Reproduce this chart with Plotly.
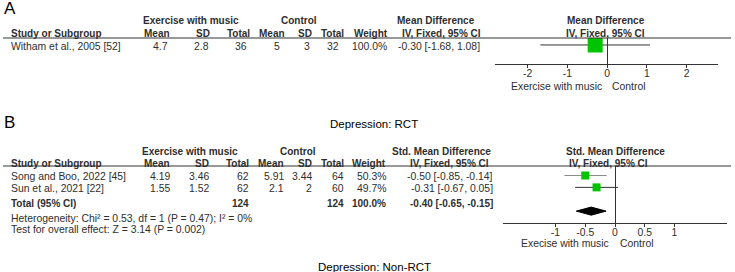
import plotly.graph_objects as go

# ---------------- data ----------------
# Panel A (RCT)
A_studies = ["Witham et al., 2005 [52]"]
A_exp_mean = [4.7]
A_exp_sd = [2.8]
A_exp_n = [36]
A_ctl_mean = [5]
A_ctl_sd = [3]
A_ctl_n = [32]
A_weight = [100.0]
A_est = [-0.30]
A_lo = [-1.68]
A_hi = [1.08]
A_ticks = [-2, -1, 0, 1, 2]
A_ticktext = ["-2", "-1", "0", "1", "2"]

# Panel B (Non-RCT)
B_studies = ["Song and Boo, 2022 [45]", "Sun et al., 2021 [22]"]
B_exp_mean = [4.19, 1.55]
B_exp_sd = [3.46, 1.52]
B_exp_n = [62, 62]
B_ctl_mean = [5.91, 2.1]
B_ctl_sd = [3.44, 2]
B_ctl_n = [64, 60]
B_weight = [50.3, 49.7]
B_est = [-0.50, -0.31]
B_lo = [-0.85, -0.67]
B_hi = [-0.14, 0.05]
B_total_exp_n = 124
B_total_ctl_n = 124
B_total_weight = 100.0
B_total_est = -0.40
B_total_lo = -0.65
B_total_hi = -0.15
B_chi2 = 0.53
B_df = 1
B_p_het = "0.47"
B_i2 = 0
B_z = 3.14
B_p_z = "0.002"
B_ticks = [-1, -0.5, 0, 0.5, 1]
B_ticktext = ["-1", "-0.5", "0", "0.5", "1"]

# ---------------- layout helpers ----------------
W, H = 735, 272
FONT = "Liberation Sans, Arial, sans-serif"
TXT = "#2e2e2e"
GREEN = "#00c400"
BODY = 10.4


def px(x):
    return x / W


def py(y):
    return 1 - y / H


annotations = []


def text(s, x, y, anchor="left", bold=False, size=BODY, color=TXT):
    if bold:
        s = "<b>" + s + "</b>"
    annotations.append(dict(
        text=s, x=px(x), y=py(y), xref="paper", yref="paper",
        xanchor=anchor, yanchor="middle", showarrow=False,
        font=dict(family=FONT, size=size, color=color), borderpad=0,
    ))


def num(v):
    return str(v)


def ci(e, lo, hi):
    return f"{e:.2f} [{lo:.2f}, {hi:.2f}]"


fig = go.Figure()

# ---------------- Panel A ----------------
text("A", 3, 9, size=17, color="#000000")
text("Exercise with music", 191, 21, anchor="center", bold=True, size=10)
text("Control", 299, 21, anchor="center", bold=True, size=10)
text("Mean Difference", 436, 21, anchor="center", bold=True, size=10)
text("Mean Difference", 606, 21, anchor="center", bold=True, size=10)

hy = 33
text("Study or Subgroup", 10, hy, bold=True, size=10)
for lab, xr in [("Mean", 171), ("SD", 211), ("Total", 251), ("Mean", 286),
                ("SD", 313), ("Total", 345), ("Weight", 389),
                ("IV, Fixed, 95% CI", 482)]:
    text(lab, xr, hy, anchor="right", bold=True, size=10)
text("IV, Fixed, 95% CI", 605, hy, anchor="center", bold=True, size=10)

cols = [169, 210, 248, 281, 311, 340, 388, 481]
for i, name in enumerate(A_studies):
    ry = 46 + 12 * i
    text(name, 10, ry)
    vals = [num(A_exp_mean[i]), num(A_exp_sd[i]), num(A_exp_n[i]),
            num(A_ctl_mean[i]), num(A_ctl_sd[i]), num(A_ctl_n[i]),
            f"{A_weight[i]:.1f}%", ci(A_est[i], A_lo[i], A_hi[i])]
    for v, xr in zip(vals, cols):
        text(v, xr, ry, anchor="right")

text("Exercise with music", 603, 86, anchor="right")
text("Control", 611, 86, anchor="left")
text("Depression: RCT", 374, 124, anchor="center", size=11.5, color="#000000")

# forest A
for i in range(len(A_studies)):
    fig.add_trace(go.Scatter(x=[A_lo[i], A_hi[i]], y=[i, i], mode="lines",
                             line=dict(color="#333333", width=1),
                             xaxis="x", yaxis="y", hoverinfo="skip"))
fig.add_trace(go.Scatter(x=A_est, y=list(range(len(A_est))), mode="markers",
                         marker=dict(symbol="square", size=15, color=GREEN,
                                     line=dict(width=0)),
                         xaxis="x", yaxis="y"))

# ---------------- Panel B ----------------
text("B", 3, 123, size=17, color="#000000")
text("Exercise with music", 190, 151, anchor="center", bold=True, size=10)
text("Control", 298, 151, anchor="center", bold=True, size=10)
text("Std. Mean Difference", 441, 151, anchor="center", bold=True, size=10)
text("Std. Mean Difference", 615, 151, anchor="center", bold=True, size=10)

hy = 163
text("Study or Subgroup", 10, hy, bold=True, size=10)
for lab, xr in [("Mean", 171), ("SD", 210), ("Total", 250), ("Mean", 285),
                ("SD", 313), ("Total", 345), ("Weight", 387),
                ("IV, Fixed, 95% CI", 490)]:
    text(lab, xr, hy, anchor="right", bold=True, size=10)
text("IV, Fixed, 95% CI", 608, hy, anchor="center", bold=True, size=10)

cols = [171, 210, 250, 285, 313, 345, 387, 494]
for i, name in enumerate(B_studies):
    ry = 176 + 12 * i
    text(name, 10, ry)
    vals = [num(B_exp_mean[i]), num(B_exp_sd[i]), num(B_exp_n[i]),
            num(B_ctl_mean[i]), num(B_ctl_sd[i]), num(B_ctl_n[i]),
            f"{B_weight[i]:.1f}%", ci(B_est[i], B_lo[i], B_hi[i])]
    for v, xr in zip(vals, cols):
        text(v, xr, ry, anchor="right")

ty = 203
text("Total (95% CI)", 10, ty, bold=True, size=10)
text(num(B_total_exp_n), 250, ty, anchor="right", bold=True, size=10)
text(num(B_total_ctl_n), 345, ty, anchor="right", bold=True, size=10)
text(f"{B_total_weight:.1f}%", 387, ty, anchor="right", bold=True, size=10)
text(ci(B_total_est, B_total_lo, B_total_hi), 494, ty, anchor="right", bold=True, size=10)
text(f"Heterogeneity: Chi² = {B_chi2:.2f}, df = {B_df} (P = {B_p_het}); I² = {B_i2}%", 10, 218)
text(f"Test for overall effect: Z = {B_z:.2f} (P = {B_p_z})", 10, 229)

text("Execise with music", 610, 243, anchor="right")
text("Control", 619, 243, anchor="left")
text("Depression: Non-RCT", 374, 267, anchor="center", size=11.5, color="#000000")

# forest B
ci_colors = ["#8c8c8c", "#333333"]
for i in range(len(B_studies)):
    fig.add_trace(go.Scatter(x=[B_lo[i], B_hi[i]], y=[i, i], mode="lines",
                             line=dict(color=ci_colors[i], width=1),
                             xaxis="x2", yaxis="y2", hoverinfo="skip"))
fig.add_trace(go.Scatter(x=B_est, y=list(range(len(B_est))), mode="markers",
                         marker=dict(symbol="square", size=8, color=GREEN,
                                     line=dict(width=0)),
                         xaxis="x2", yaxis="y2"))
drow = 3
dh = 0.34
fig.add_trace(go.Scatter(
    x=[B_total_lo, B_total_est, B_total_hi, B_total_est, B_total_lo],
    y=[drow, drow - dh, drow, drow + dh, drow],
    mode="lines", fill="toself", fillcolor="#000000",
    line=dict(color="#000000", width=1), xaxis="x2", yaxis="y2"))

# ---------------- shapes (header rules) ----------------
shapes = [
    dict(type="line", xref="paper", yref="paper", x0=px(3), x1=px(731),
         y0=py(38), y1=py(38), line=dict(color="#333333", width=1)),
    dict(type="line", xref="paper", yref="paper", x0=px(3), x1=px(731),
         y0=py(166), y1=py(166), line=dict(color="#333333", width=1)),
]


def xax(domain, rng, tv, tt):
    return dict(domain=domain, range=rng, showline=True, linecolor="#333333",
                linewidth=1, ticks="outside", ticklen=3, tickcolor="#333333",
                tickwidth=1, tickvals=tv, ticktext=tt, ticklabelstandoff=-3,
                tickfont=dict(family=FONT, size=10.4, color=TXT),
                zeroline=True, zerolinecolor="#333333", zerolinewidth=1,
                showgrid=False, fixedrange=True)


def yax(domain, rng):
    return dict(domain=domain, range=rng, visible=False, showgrid=False,
                zeroline=False, fixedrange=True)


fig.update_layout(
    width=W, height=H, margin=dict(l=0, r=0, t=0, b=0),
    paper_bgcolor="white", plot_bgcolor="rgba(0,0,0,0)",
    showlegend=False,
    xaxis=xax([495 / W, 718 / W], [-2.82, 2.79], A_ticks, A_ticktext),
    yaxis=yax([py(64), py(38)], [1.58, -0.58]),
    xaxis2=xax([503 / W, 727 / W], [-1.882, 1.882], B_ticks, B_ticktext) | dict(anchor="y2"),
    yaxis2=yax([py(223), py(166)], [4, -0.8]) | dict(anchor="x2"),
    annotations=annotations, shapes=shapes,
)
fig.update_layout(xaxis=dict(anchor="y"), yaxis=dict(anchor="x"))

fig.write_html(
    "out.html",
    config={"displayModeBar": False},
    post_script="document.body.style.margin='0';document.body.style.padding='0';",
)
